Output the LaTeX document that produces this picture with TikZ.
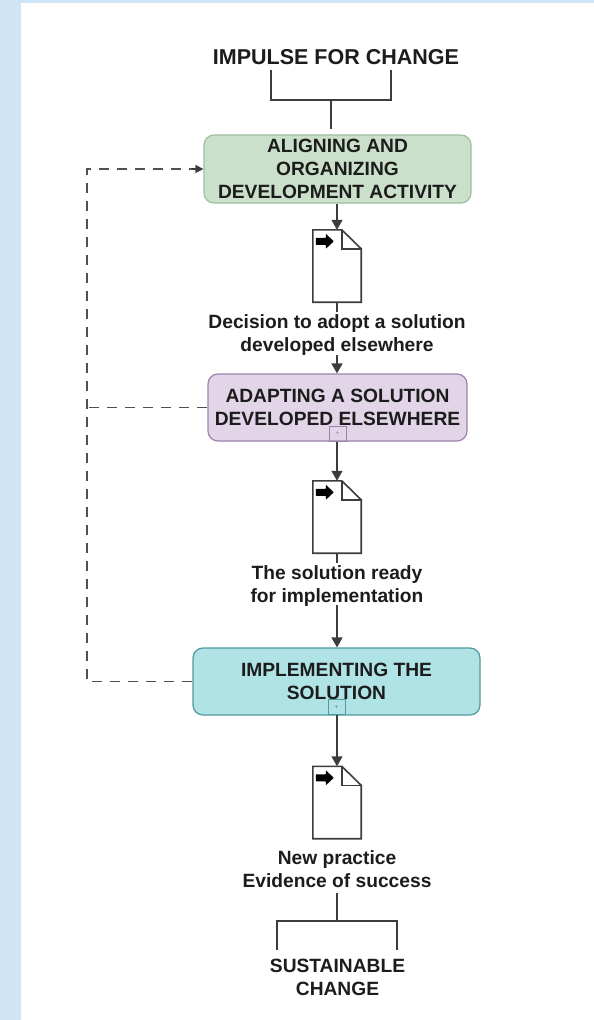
\documentclass[tikz,border=0pt]{standalone}
\usepackage{fontspec}
\setmainfont{Liberation Sans}
\usetikzlibrary{arrows.meta}
\definecolor{pagebg}{HTML}{CFE5F5}
\definecolor{ink}{HTML}{1C1C1C}
\definecolor{wire}{HTML}{3C3C3C}
\definecolor{greenfill}{HTML}{CBE0CB}\definecolor{greenline}{HTML}{9DBF9F}
\definecolor{purplefill}{HTML}{E1D5E7}\definecolor{purpleline}{HTML}{9C83AE}
\definecolor{tealfill}{HTML}{B0E3E6}\definecolor{tealline}{HTML}{4E9AA0}
\tikzset{
  x=1pt,y=-1pt,
  lbl/.style={font=\bfseries\fontsize{19.2}{23}\selectfont,text=ink,align=center,inner sep=0pt},
  lblbig/.style={font=\bfseries\fontsize{21.5}{25}\selectfont,text=ink,align=center,inner sep=0pt},
  proc/.style={rounded corners=10pt,draw=#1line,fill=#1fill,line width=1.2pt,align=center,inner sep=0pt,font=\bfseries\fontsize{19.2}{23}\selectfont,text=ink},
  marker/.style={draw=#1line,line width=1pt,minimum width=17pt,minimum height=15pt,inner sep=0pt,font=\fontsize{7}{7}\selectfont,text=#1line},
  wireline/.style={draw=wire,line width=1.6pt},
  flow/.style={wireline,-{Triangle[length=10pt,width=11pt]}},
  feedback/.style={draw=wire!90,line width=1.3pt,dash pattern=on 10pt off 8pt},
  docbody/.style={minimum width=48pt,minimum height=72pt,inner sep=0pt},
  docline/.style={draw=wire,line width=1.6pt,fill=white,line join=miter},
}
\newcommand{\docicon}[3]{%
  \node[docbody] (#1) at (#2,#3) {};
  \draw[docline] (#1.north west) -- ([xshift=29pt]#1.north west) -- ([yshift=-19pt]#1.north east) -- (#1.south east) -- (#1.south west) -- cycle;
  \draw[docline,fill=none] ([xshift=29pt]#1.north west) -- ([xshift=29pt,yshift=-19pt]#1.north west) -- ([yshift=-19pt]#1.north east);
  \fill[black,rounded corners=.6pt,shift={(#1.north west)}] (3,8) -- (13,8) -- (13,4) -- (21,11.5) -- (13,19) -- (13,15) -- (3,15) -- cycle;
}
\begin{document}
\begin{tikzpicture}
\useasboundingbox (0,0) rectangle (594,1020);
\fill[pagebg] (0,0) rectangle (594,1020);
\fill[white] (21,3) rectangle (594,1020);

% nodes
\node[lblbig] (impulse) at (336,57) {IMPULSE FOR CHANGE};
\node[proc=green,minimum width=267pt,minimum height=68pt] (align) at (337.5,169) {ALIGNING AND\\ORGANIZING\\DEVELOPMENT ACTIVITY};
\docicon{d1}{337}{266}
\node[lbl] (t1) at (337,335) {Decision to adopt a solution\\developed elsewhere};
\node[proc=purple,minimum width=259pt,minimum height=67pt] (adapt) at (337.5,407.5) {ADAPTING A SOLUTION\\DEVELOPED ELSEWHERE};
\node[marker=purple] (m2) at (337.5,433.5) {+};
\docicon{d2}{337}{517}
\node[lbl] (t2) at (337,586) {The solution ready\\for implementation};
\node[proc=teal,minimum width=287pt,minimum height=67pt] (impl) at (336.5,681.5) {IMPLEMENTING THE\\SOLUTION};
\node[marker=teal] (m3) at (336.5,707) {+};
\docicon{d3}{337}{802.5}
\node[lbl] (t3) at (337,869.5) {New practice\\Evidence of success};
\node[lbl] (sust) at (337.5,977.5) {SUSTAINABLE\\CHANGE};

% brackets
\coordinate (b1l) at (271,70);
\coordinate (b1r) at (391,70);
\coordinate (b1c) at (331,100);
\coordinate (b1e) at (331,129);
\draw[wireline] (b1l) |- (b1c) -| (b1r);
\draw[wireline] (b1c) -- (b1e);
\coordinate (b2l) at (277,950);
\coordinate (b2r) at (397,950);
\coordinate (b2c) at (337,921);
\coordinate (b2s) at (337,893);
\draw[wireline] (b2l) |- (b2c) -| (b2r);
\draw[wireline] (b2s) -- (b2c);

% flow
\draw[flow] (align.south -| d1.north) -- (d1.north);
\draw[wireline] (d1.south) -- ++(0,10);
\coordinate (a1) at (337,355);
\draw[flow] (a1) -- (adapt.north -| a1);
\draw[flow] (m2.south -| d2.north) -- (d2.north);
\draw[wireline] (d2.south) -- ++(0,10);
\coordinate (a2) at (337,605);
\draw[flow] (a2) -- (impl.north -| a2);
\draw[flow] (m3.south -| d3.north) -- (d3.north);

% feedback
\coordinate (fb1) at (87,681.5);
\coordinate (fb2) at (87,169);
\coordinate (fb3) at (87,407.5);
\draw[feedback] (impl.west) -- (fb1) -- (fb2) -- (192,169);
\draw[draw=wire,-{Triangle[length=8pt,width=8pt]},line width=1.3pt] (192,169) -- (align.west);
\draw[feedback] (adapt.west) -- (fb3);
\end{tikzpicture}
\end{document}
